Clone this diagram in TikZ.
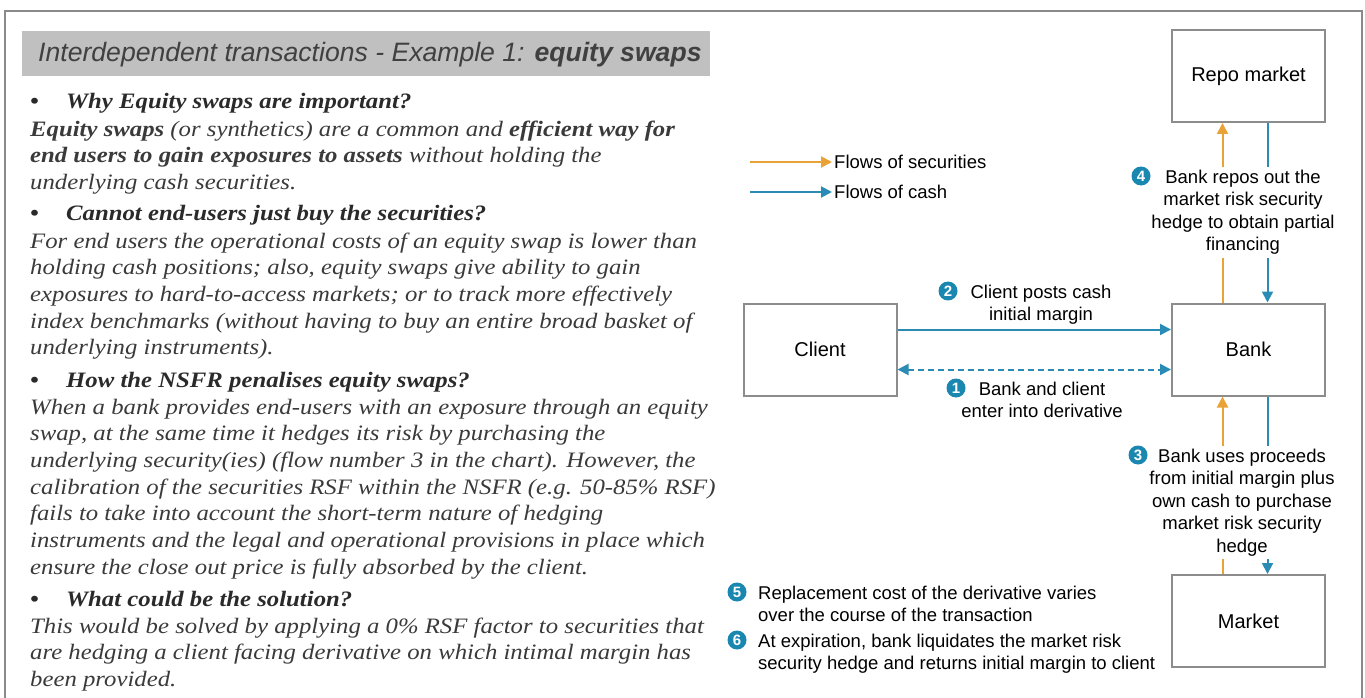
\documentclass[tikz,border=0pt]{standalone}
\usepackage{fontspec}
\setmainfont{Liberation Serif}[FakeStretch=1.125]
\setsansfont{Liberation Sans}
\newfontfamily\diagfont{Liberation Sans}
\usetikzlibrary{arrows.meta,positioning}

\definecolor{secorange}{HTML}{E9A236}
\definecolor{cashblue}{HTML}{2A8CB4}
\definecolor{numblue}{HTML}{1A87B0}
\definecolor{boxgray}{HTML}{8C8C8C}
\definecolor{framegray}{HTML}{8A8A8A}
\definecolor{titlegray}{HTML}{C0C0C0}
\definecolor{bodytext}{HTML}{3A3A3A}
\definecolor{headtext}{HTML}{2A2A2A}

\begin{document}
\begin{tikzpicture}[x=1pt,y=-1pt,
  ent/.style={draw=boxgray, line width=2pt, fill=white, minimum width=\boxW,
    minimum height=\boxH, inner sep=0pt, font=\diagfont\fontsize{20}{24}\selectfont},
  lbl/.style={anchor=base, inner sep=1pt, align=center,
    font=\diagfont\fontsize{18.5}{22.6}\selectfont},
  gaplbl/.style={lbl, fill=white, inner sep=3pt},
  note/.style={anchor=base west, inner sep=0pt, align=left,
    font=\diagfont\fontsize{18.5}{22}\selectfont},
  numc/.style={circle, fill=numblue, text=white, inner sep=0pt, minimum size=19pt,
    font=\diagfont\bfseries\fontsize{15}{15}\selectfont},
  secflow/.style={draw=secorange, line width=2pt, -{Triangle[length=11pt,width=11pt]}},
  cashflow/.style={draw=cashblue, line width=2pt, -{Triangle[length=11pt,width=11pt]}},
  para/.style={anchor=base west, inner sep=0pt, align=left, text=bodytext,
    font=\itshape\fontsize{22}{26.7}\selectfont},
  head/.style={anchor=base west, inner sep=0pt, text=headtext,
    font=\bfseries\itshape\fontsize{22}{26.7}\selectfont}]
  \newlength{\boxW}
  \newlength{\boxH}
  \setlength{\boxW}{153pt}
  \setlength{\boxH}{92pt}

  \useasboundingbox (0,0) rectangle (1365,698);
  % cornice esterna
  \draw[framegray, line width=2.5pt] (5,698) -- (5,11) -- (1362,11) -- (1362,698);

  % titolo
  \node[fill=titlegray, anchor=north west, minimum width=688pt, minimum height=45pt,
    inner sep=0pt] (titlebox) at (22,31) {};
  \node[anchor=base west, inner sep=0pt, text=black!75,
    font=\sffamily\itshape\fontsize{26.6}{30}\selectfont] (title) at (38,62)
    {Interdependent transactions - Example 1: \textbf{equity swaps}};

  % domande
  \foreach \yy/\hd [count=\i] in {109/Why Equity swaps are important?,
      220/Cannot end-users just buy the securities?,
      387/How the NSFR penalises equity swaps?,
      606/What could be the solution?}{
    \node[head] (b\i) at (30,\yy) {\textbullet};
    \node[head] (h\i) at (66,\yy) {\hd};
  }

  % risposte (ancora sull'ultima riga)
  \node[para] (p1) at (30,189.4) {\textbf{Equity swaps} (or synthetics) are a common and \textbf{efficient way for}\\
    \textbf{end users to gain exposures to assets} without holding the\\
    underlying cash securities.};
  \node[para] (p2) at (30,354.8) {For end users the operational costs of an equity swap is lower than\\
    holding cash positions; also, equity swaps give ability to gain\\
    exposures to hard-to-access markets; or to track more effectively\\
    index benchmarks (without having to buy an entire broad basket of\\
    underlying instruments).};
  \node[para] (p3) at (30,574.2) {When a bank provides end-users with an exposure through an equity\\
    swap, at the same time it hedges its risk by purchasing the\\
    underlying security(ies) (flow number 3 in the chart). However, the\\
    calibration of the securities RSF within the NSFR (e.g. 50-85\% RSF)\\
    fails to take into account the short-term nature of hedging\\
    instruments and the legal and operational provisions in place which\\
    ensure the close out price is fully absorbed by the client.};
  \node[para] (p4) at (30,686.4) {This would be solved by applying a 0\% RSF factor to securities that\\
    are hedging a client facing derivative on which intimal margin has\\
    been provided.};

  % legenda
  \coordinate (lsec0) at (750,162);
  \coordinate (lsec1) at (832,162);
  \coordinate (lcash0) at (750,192);
  \coordinate (lcash1) at (832,192);
  \draw[secflow] (lsec0) -- (lsec1);
  \draw[cashflow] (lcash0) -- (lcash1);
  \node[note, anchor=west, right=2pt of lsec1] (lsec) {Flows of securities};
  \node[note, anchor=west, right=2pt of lcash1] (lcash) {Flows of cash};

  % soggetti
  \node[ent] (repo) at (1248.5,76) {Repo market};
  \node[ent] (bank) at (1248.5,349.5) {Bank};
  \node[ent] (client) at (820,349.5) {Client};
  \node[ent] (market) at (1248.5,621) {Market};

  % flussi
  \draw[cashflow] ([yshift=20pt]client.east) -- ([yshift=20pt]bank.west);
  \draw[cashflow, dash pattern=on 6pt off 4pt, {Triangle[length=11pt,width=11pt]}-{Triangle[length=11pt,width=11pt]}]
    ([yshift=-20pt]client.east) -- ([yshift=-20pt]bank.west);
  \draw[secflow] ([xshift=-26pt]bank.north) -- ([xshift=-26pt]repo.south);
  \draw[cashflow] ([xshift=19pt]repo.south) -- ([xshift=19pt]bank.north);
  \draw[secflow] ([xshift=-26pt]market.north) -- ([xshift=-26pt]bank.south);
  \draw[cashflow] ([xshift=19pt]bank.south) -- ([xshift=19pt]market.north);

  % etichette (ancora sull'ultima riga)
  \node[gaplbl] (lab4) at (1243,250.8) {Bank repos out the\\market risk security\\hedge to obtain partial\\financing};
  \node[lbl] (lab2) at (1041,320.6) {Client posts cash\\initial margin};
  \node[lbl] (lab1) at (1042,417.6) {Bank and client\\enter into derivative};
  \node[gaplbl] (lab3) at (1242,552.4) {Bank uses proceeds\\from initial margin plus\\own cash to purchase\\market risk security\\hedge};
  \node[note] (note5) at (758,621) {Replacement cost of the derivative varies\\over the course of the transaction};
  \node[note] (note6) at (758,669) {At expiration, bank liquidates the market risk\\security hedge and returns initial margin to client};

  % numeri
  \node[numc] (n1) at (956,388) {1};
  \node[numc] (n2) at (948,291) {2};
  \node[numc] (n3) at (1138,455) {3};
  \node[numc] (n4) at (1141,176) {4};
  \node[numc] (n5) at (737,592) {5};
  \node[numc] (n6) at (737,640) {6};
\end{tikzpicture}
\end{document}
